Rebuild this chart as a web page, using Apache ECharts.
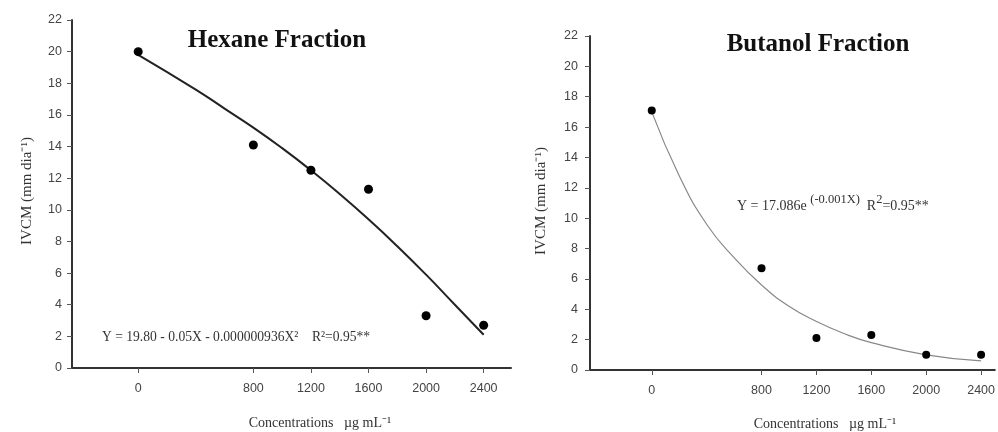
<!DOCTYPE html>
<html>
<head>
<meta charset="utf-8">
<script src="https://cdn.jsdelivr.net/npm/echarts@6/dist/echarts.min.js"></script>
<style>
  html, body { margin: 0; padding: 0; background: #fff; }
  #main { width: 998px; height: 432px; }
</style>
</head>
<body>
<div id="main"></div>
<script>
// concentrations (µg/mL) and observed IVCM
const concentrations = [0, 800, 1200, 1600, 2000, 2400];
const hexaneIvcm = [20.0, 14.1, 12.5, 11.3, 3.3, 2.7];
const butanolIvcm = [17.1, 6.7, 2.1, 2.3, 1.0, 1.0];

// fitted curves
const hexaneFitX = [0, 400, 600, 800, 1000, 1200, 1400, 1600, 1800, 2000, 2200, 2400];
const hexaneFitY = [19.8, 17.6, 16.4, 15.2, 13.9, 12.5, 11.0, 9.4, 7.7, 5.9, 4.0, 2.1];
const butanolFitX = [0, 200, 400, 600, 800, 1000, 1200, 1400, 1600, 2000, 2400];
const butanolFitY = [17.0, 12.8, 9.6, 7.4, 5.6, 4.2, 3.2, 2.4, 1.8, 1.0, 0.6];

const xTickValues = [0, 800, 1200, 1600, 2000, 2400];
const yMin = 0, yMax = 22, yStep = 2;

const serif = 'Liberation Serif, Times New Roman, serif';
const sans = 'Liberation Sans, Arial, sans-serif';

function pairs(xs, ys) {
  return xs.map((x, i) => [x, ys[i]]);
}

function xAxisCfg(gridIndex, min, max) {
  return {
    type: 'value', gridIndex: gridIndex, min: min, max: max,
    axisLine: { show: true, onZero: false, lineStyle: { color: '#333', width: 2 } },
    axisTick: { show: true, length: 5, customValues: xTickValues, lineStyle: { color: '#555' } },
    axisLabel: { customValues: xTickValues, margin: 14, color: '#444', fontFamily: sans, fontSize: 12.5,
      formatter: v => String(v) },
    splitLine: { show: false }
  };
}

function yAxisCfg(gridIndex, labelMargin) {
  return {
    type: 'value', gridIndex: gridIndex, min: yMin, max: yMax, interval: yStep,
    axisLine: { show: true, onZero: false, lineStyle: { color: '#333', width: 2 } },
    axisTick: { show: true, length: 5, lineStyle: { color: '#555' } },
    axisLabel: { margin: labelMargin, color: '#444', fontFamily: sans, fontSize: 12.5 },
    splitLine: { show: false }
  };
}

const chart = echarts.init(document.getElementById('main'));
chart.setOption({
  backgroundColor: '#fff',
  animation: false,
  title: [
    { text: 'Hexane Fraction', left: 277, top: 28, textAlign: 'center', padding: 0,
      textStyle: { fontFamily: serif, fontWeight: 'bold', fontSize: 25, color: '#111' } },
    { text: 'Butanol Fraction', left: 818, top: 32, textAlign: 'center', padding: 0,
      textStyle: { fontFamily: serif, fontWeight: 'bold', fontSize: 25, color: '#111' } }
  ],
  grid: [
    { left: 72, top: 20, width: 439, bottom: 64 },
    { left: 590, top: 36, width: 408, bottom: 62 }
  ],
  xAxis: [xAxisCfg(0, -460, 2590), xAxisCfg(1, -450, 2500)],
  yAxis: [yAxisCfg(0, 10), yAxisCfg(1, 12)],
  series: [
    {
      type: 'line', xAxisIndex: 0, yAxisIndex: 0, data: pairs(hexaneFitX, hexaneFitY),
      smooth: true, symbol: 'none', lineStyle: { color: '#222', width: 2 }, z: 2
    },
    {
      type: 'scatter', xAxisIndex: 0, yAxisIndex: 0, data: pairs(concentrations, hexaneIvcm),
      symbolSize: 9, itemStyle: { color: '#000', opacity: 1 }, z: 3
    },
    {
      type: 'line', xAxisIndex: 1, yAxisIndex: 1, data: pairs(butanolFitX, butanolFitY),
      smooth: true, symbol: 'none', lineStyle: { color: '#888', width: 1.2 }, z: 2
    },
    {
      type: 'scatter', xAxisIndex: 1, yAxisIndex: 1, data: pairs(concentrations, butanolIvcm),
      symbolSize: 8, itemStyle: { color: '#000', opacity: 1 }, z: 3
    }
  ],
  graphic: [
    // axis names
    { type: 'text', x: 27, y: 191, rotation: Math.PI / 2,
      style: { text: 'IVCM (mm dia⁻¹)', fontFamily: serif, fontSize: 15, fill: '#333', align: 'center', verticalAlign: 'middle' } },
    { type: 'text', x: 541, y: 201, rotation: Math.PI / 2,
      style: { text: 'IVCM (mm dia⁻¹)', fontFamily: serif, fontSize: 15, fill: '#333', align: 'center', verticalAlign: 'middle' } },
    { type: 'text', x: 320, y: 423,
      style: { text: 'Concentrations   µg mL⁻¹', fontFamily: serif, fontSize: 14, fill: '#333', align: 'center', verticalAlign: 'middle' } },
    { type: 'text', x: 825, y: 424,
      style: { text: 'Concentrations   µg mL⁻¹', fontFamily: serif, fontSize: 14, fill: '#333', align: 'center', verticalAlign: 'middle' } },
    // fit equations
    { type: 'text', x: 102, y: 337,
      style: { text: 'Y = 19.80 - 0.05X - 0.000000936X²    R²=0.95**', fontFamily: serif, fontSize: 13.6, fill: '#333', align: 'left', verticalAlign: 'middle' } },
    { type: 'text', x: 737, y: 203,
      style: {
        text: '{m|Y = 17.086e }{s|(-0.001X)}{m|  R}{s|2}{m|=0.95**}',
        align: 'left', verticalAlign: 'middle',
        rich: {
          m: { fontFamily: serif, fontSize: 14, fill: '#333', verticalAlign: 'bottom', lineHeight: 20 },
          s: { fontFamily: serif, fontSize: 12.5, fill: '#333', verticalAlign: 'top', lineHeight: 20 }
        }
      } }
  ]
});
</script>
</body>
</html>
